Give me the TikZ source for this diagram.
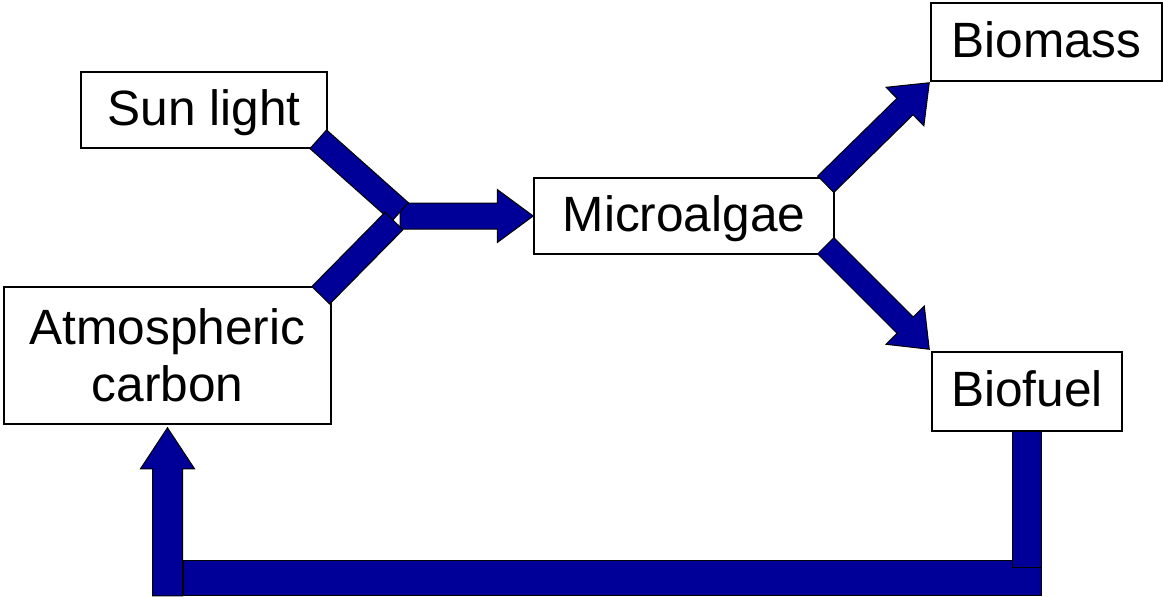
\documentclass[tikz,border=0pt]{standalone}
\usepackage{fontspec}
\setmainfont{Liberation Sans}
\usetikzlibrary{calc}
\definecolor{arrowblue}{RGB}{0,0,153}
\tikzset{
  box/.style={draw=black, line width=0.75pt, fill=white, inner sep=0pt,
    font=\fontsize{24.8}{28.5}\selectfont, text height=17.5pt, text depth=2.5pt},
  barrow/.style={fill=arrowblue, draw=black, line width=0.5pt, line join=miter},
}
% block arrow: start, tip, half shaft width, head length, half head width
\newcommand\blockarrow[5]{%
  \filldraw[barrow] let \p1=($(#2)-(#1)$), \n1={atan2(\y1,\x1)} in
    ($(#1)+(\n1+90:#3)$) -- ($(#2)+(\n1+180:#4)+(\n1+90:#3)$)
    -- ($(#2)+(\n1+180:#4)+(\n1+90:#5)$) -- (#2)
    -- ($(#2)+(\n1+180:#4)+(\n1-90:#5)$) -- ($(#2)+(\n1+180:#4)+(\n1-90:#3)$)
    -- ($(#1)+(\n1-90:#3)$) -- cycle;}
% block bar: start, end, half width
\newcommand\blockbar[3]{%
  \filldraw[barrow] let \p1=($(#2)-(#1)$), \n1={atan2(\y1,\x1)} in
    ($(#1)+(\n1+90:#3)$) -- ($(#2)+(\n1+90:#3)$)
    -- ($(#2)+(\n1-90:#3)$) -- ($(#1)+(\n1-90:#3)$) -- cycle;}
\begin{document}
\begin{tikzpicture}[x=0.5pt, y=-0.5pt]
\useasboundingbox (0,0) rectangle (1163,596);

% boxes
\node[box, minimum width=123pt, minimum height=38pt] (sun) at (204,110) {Sun light};
\node[box, minimum width=163.5pt, minimum height=68.5pt, align=center,
      text height=, text depth=] (atm) at (167.5,355.5) {Atmospheric\\carbon};
\node[box, minimum width=150pt, minimum height=38pt] (micro) at (684,216) {Microalgae};
\node[box, minimum width=115.5pt, minimum height=39pt] (biomass) at (1046.5,42) {Biomass};
\node[box, minimum width=95pt, minimum height=39.5pt] (biofuel) at (1027,391.5) {Biofuel};

% junction coordinates
\coordinate (ju) at (400,212);
\coordinate (jl) at (394,221);
\coordinate (jh) at (400,216);

% input arrows
\blockarrow{jh}{micro.west}{6.5pt}{18pt}{13.25pt}
\blockbar{$(sun.south east)+(-9.5,-9.5)$}{ju}{6.25pt}
\blockbar{$(atm.north east)+(-11,9)$}{jl}{6.25pt}

% output arrows
\blockarrow{$(micro.north east)+(-9,7)$}{$(biomass.south west)+(-1,1)$}{5.75pt}{17pt}{13.5pt}
\blockarrow{$(micro.south east)+(-9,-9)$}{$(biofuel.north west)+(-2,-2)$}{5.75pt}{17pt}{13.5pt}

% feedback loop
\coordinate (vb) at ($(biofuel.south)+(0,136)$);
\coordinate (fbL) at (183,577.5);
\coordinate (fbR) at (1041,577.5);
\coordinate (ub) at ($(atm.south)+(0,171)$);
\blockarrow{ub}{$(atm.south)+(0,3)$}{7.5pt}{20.5pt}{13.5pt}
\blockbar{fbL}{fbR}{8.75pt}
\blockbar{biofuel.south}{vb}{7.25pt}
\end{tikzpicture}
\end{document}
